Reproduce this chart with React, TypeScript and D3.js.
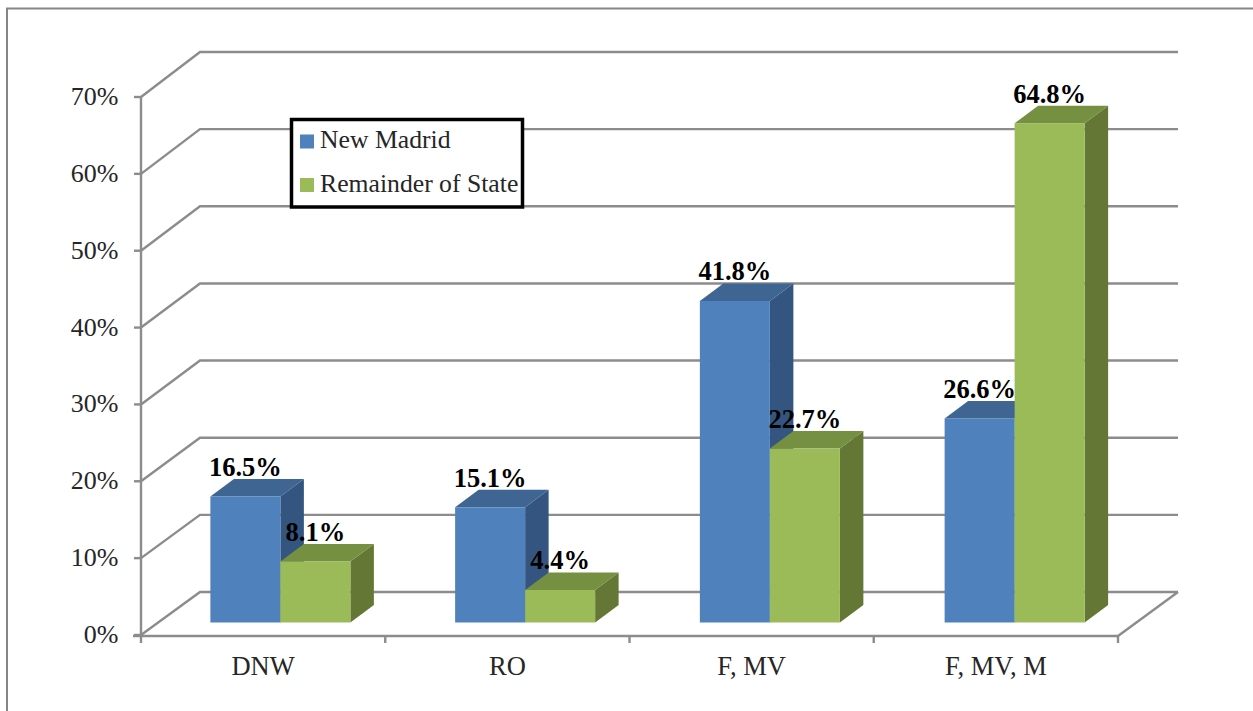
import React from "react";
import * as d3 from "d3";

const categories = ["DNW", "RO", "F, MV", "F, MV, M"];
const newMadrid = [16.5, 15.1, 41.8, 26.6];
const remainder = [8.1, 4.4, 22.7, 64.8];
const seriesNames = ["New Madrid", "Remainder of State"];
const yTicks = [0, 10, 20, 30, 40, 50, 60, 70];

const WIDTH = 1253;
const HEIGHT = 711;
const GRID = "#8c8c8c";
const SERIF = "'Liberation Serif', serif";

const faces = [
  { front: "#4f81bd", top: "#3f6592", side: "#34557f" },
  { front: "#9bbb59", top: "#769042", side: "#647735" },
];

// Front and back planes of the 3-D box, each with its own value scale.
const yFront = d3.scaleLinear().domain([0, 70]).range([635, 97]);
const yBack = d3.scaleLinear().domain([0, 70]).range([592, 52]);
const yBar = d3.scaleLinear().domain([0, 70]).range([624, 83]);

const xAxis = d3.scaleBand<string>().domain(categories).range([141, 1118]);
const xBars = d3.scaleBand<string>().domain(categories).range([158, 1137]);

const BACK_LEFT = 200;
const BACK_RIGHT = 1178;
const FLOOR_FRONT = 636;
const BAR_BASE = 622.5;
const BAR_W = 70;
const DEPTH_X = 23.5;
const DEPTH_Y = 17.5;

const path = d3.line();

function Bar({ x, value, face }: { x: number; value: number; face: (typeof faces)[number] }) {
  const y = yBar(value);
  const r = x + BAR_W;
  return (
    <g stroke="none">
      <path
        d={path([[r, y], [r + DEPTH_X, y - DEPTH_Y], [r + DEPTH_X, BAR_BASE - DEPTH_Y], [r, BAR_BASE]]) + "Z"}
        fill={face.side}
      />
      <path
        d={path([[x, y], [x + DEPTH_X, y - DEPTH_Y], [r + DEPTH_X, y - DEPTH_Y], [r, y]]) + "Z"}
        fill={face.top}
      />
      <rect x={x} y={y} width={BAR_W} height={BAR_BASE - y} fill={face.front} />
    </g>
  );
}

export default function App() {
  const series = [newMadrid, remainder];
  return (
    <svg
      width={WIDTH}
      height={HEIGHT}
      viewBox={`0 0 ${WIDTH} ${HEIGHT}`}
      style={{ position: "absolute", left: 0, top: 0, display: "block", background: "#fff" }}
    >
      {/* outer chart frame, open at the right and bottom edges */}
      <path d="M7 711V8.5H1253" fill="none" stroke="#858585" strokeWidth={2} />

      {/* back wall gridlines with their diagonal returns to the value axis */}
      <g fill="none" stroke={GRID} strokeWidth={2.4}>
        {yTicks.map((t) => (
          <path
            key={t}
            d={path([[141, yFront(t)], [BACK_LEFT, yBack(t)], [BACK_RIGHT, yBack(t)]]) ?? ""}
          />
        ))}
        <path d={path([[BACK_RIGHT, yBack(0)], [1118, FLOOR_FRONT]]) ?? ""} />
        <path d={path([[141, yFront(70)], [141, FLOOR_FRONT]]) ?? ""} />
        <path d={path([[133, FLOOR_FRONT], [1118, FLOOR_FRONT]]) ?? ""} />
        {yTicks.map((t) => (
          <path key={t} d={path([[134, yFront(t)], [141, yFront(t)]]) ?? ""} />
        ))}
        {[...categories.map((c) => xAxis(c) as number), 1118].map((x) => (
          <path key={x} d={path([[x, FLOOR_FRONT], [x, 643]]) ?? ""} />
        ))}
      </g>

      {/* value axis labels */}
      <g fontFamily={SERIF} fontSize={26} fill="#262626" textAnchor="end">
        {yTicks.map((t) => (
          <text key={t} x={118.5} y={yFront(t) + 8}>
            {t}%
          </text>
        ))}
      </g>

      {/* category labels */}
      <g fontFamily={SERIF} fontSize={26.5} fill="#262626" textAnchor="middle">
        {categories.map((c) => (
          <text key={c} x={(xAxis(c) as number) + xAxis.bandwidth() / 2} y={675}>
            {c}
          </text>
        ))}
      </g>

      {/* paired 3-D columns; the nearer green column overlaps the blue side face */}
      {categories.map((c, i) => {
        const mid = (xBars(c) as number) + xBars.bandwidth() / 2;
        return (
          <g key={c}>
            <Bar x={mid - BAR_W} value={newMadrid[i]} face={faces[0]} />
            <Bar x={mid} value={remainder[i]} face={faces[1]} />
          </g>
        );
      })}

      {/* value labels above each column */}
      <g fontFamily={SERIF} fontSize={26.5} fontWeight="bold" fill="#000" textAnchor="middle">
        {categories.map((c, i) => {
          const mid = (xBars(c) as number) + xBars.bandwidth() / 2;
          return series.map((s, k) => (
            <text key={k} x={mid + (k === 0 ? -BAR_W / 2 : BAR_W / 2)} y={yBar(s[i]) - 20.5}>
              {s[i].toFixed(1)}%
            </text>
          ));
        })}
      </g>

      {/* legend */}
      <rect x={291.5} y={119.5} width={231} height={87.5} fill="#fff" stroke="#000" strokeWidth={3.5} />
      {seriesNames.map((name, i) => (
        <g key={name}>
          <rect x={300} y={134.5 + i * 43.5} width={14} height={14} fill={faces[i].front} />
          <text x={320} y={148 + i * 44} fontFamily={SERIF} fontSize={25.7} fill="#262626">
            {name}
          </text>
        </g>
      ))}
    </svg>
  );
}
